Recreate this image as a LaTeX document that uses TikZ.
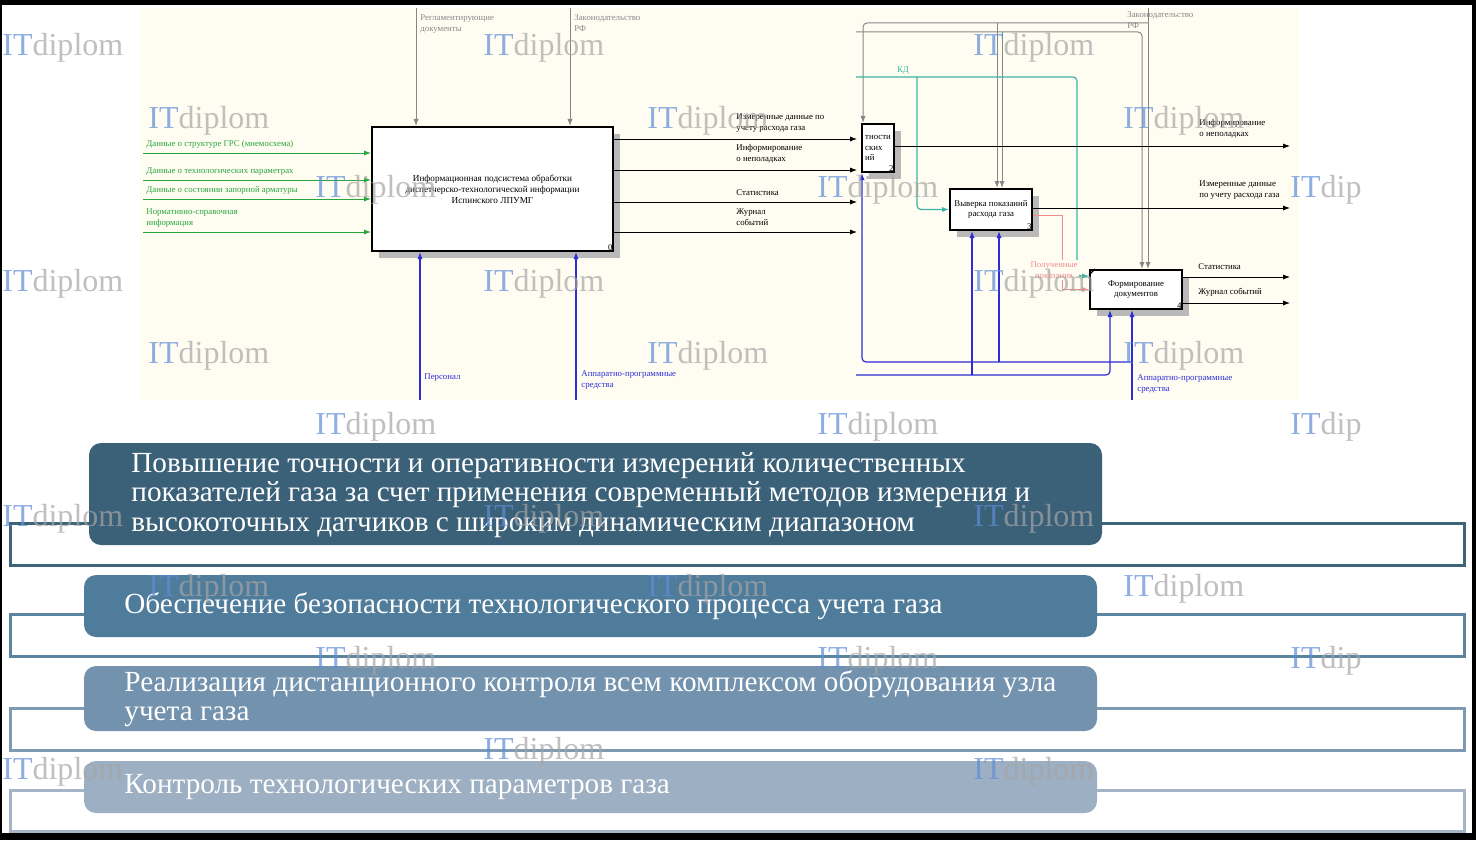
\documentclass[tikz,border=0pt]{standalone}
\usepackage{fontspec}
\setmainfont{Liberation Serif}
\usetikzlibrary{positioning}
\usetikzlibrary{arrows.meta}
\usetikzlibrary{shadows}

\definecolor{cream}{RGB}{255,253,242}
\definecolor{idefgreen}{RGB}{40,165,60}
\definecolor{idefblue}{RGB}{45,45,215}
\definecolor{ctrlgray}{RGB}{135,135,135}
\definecolor{kdteal}{RGB}{60,180,165}
\definecolor{pinkline}{RGB}{240,140,140}
\definecolor{barA}{RGB}{59,97,121}
\definecolor{barB}{RGB}{79,124,155}
\definecolor{barC}{RGB}{115,146,173}
\definecolor{barD}{RGB}{157,175,194}
\definecolor{frameA}{RGB}{62,100,120}
\definecolor{frameB}{RGB}{90,132,160}
\definecolor{frameC}{RGB}{126,154,178}
\definecolor{frameD}{RGB}{165,181,197}
\definecolor{wmblue}{RGB}{95,140,215}
\definecolor{wmgray}{RGB}{165,165,165}

\tikzset{
	idef/.style={draw, line width=1pt, fill=white, inner sep=1pt, align=center,
		font=\fontsize{4.4}{5.4}\selectfont,
		drop shadow={shadow xshift=3.5pt, shadow yshift=-3.5pt, fill=gray!55, opacity=1}},
	lbl/.style={inner sep=0.5pt, align=left, font=\fontsize{4.4}{5.6}\selectfont},
	tip/.style={-{Latex[length=3.5pt,width=2.6pt]}},
	ctrl/.style={tip, draw=ctrlgray, line width=0.5pt},
	inarr/.style={tip, draw=idefgreen, line width=0.5pt},
	mech/.style={tip, draw=idefblue, line width=0.6pt},
	outarr/.style={tip, draw=black, line width=0.5pt},
	kd/.style={tip, draw=kdteal, line width=0.6pt},
	frm/.style={line width=1.5pt},
	bartxt/.style={anchor=west, text=white, align=left, inner sep=0pt, font=\fontsize{14.6}{14.6}\selectfont},
	wmark/.style={anchor=base west, inner sep=0pt, text opacity=0.7, font=\fontsize{16}{16}\selectfont}
}

\begin{document}
\begin{tikzpicture}[x=0.5pt,y=-0.5pt]
	\useasboundingbox (0,0) rectangle (1476,840);
	\fill[black] (0,0) rectangle (1476,840);
	\fill[white] (2,5) rectangle (1472,833);
	\fill[cream] (140,8) rectangle (1299,400);
	
	% left diagram
	\node (box0) [idef, minimum width=120.5pt, minimum height=62pt, font=\fontsize{4.6}{5.5}\selectfont,
		label={[lbl,anchor=south east]south east:0}] at (492.5,189)
		{Информационная подсистема обработки\\диспетчерско-технологической информации\\Испинского ЛПУМГ};
	
	\coordinate (c1) at (416,8);
	\coordinate (c2) at (570,8);
	\draw[ctrl] (c1) -- (c1 |- box0.north);
	\draw[ctrl] (c2) -- (c2 |- box0.north);
	\node[lbl, text=ctrlgray, anchor=north west] (lc1) at (419,13) {Регламентирующие\\документы};
	\node[lbl, text=ctrlgray, anchor=north west] (lc2) at (573,13) {Законодательство\\РФ};
	
	\foreach \y/\t [count=\k] in {153/{Данные о структуре ГРС (мнемосхема)}, 180/{Данные о технологических параметрах},
		199/{Данные о состоянии запорной арматуры}, 232/{Нормативно-справочная\\информация}}{
		\coordinate (in\k) at (143,\y);
		\draw[inarr] (in\k) -- (in\k -| box0.west);
		\node[lbl, text=idefgreen, anchor=south west] (lin\k) at (145,\y-3) {\t};
	}
	
	\foreach \y/\t [count=\k] in {139/{Измеренные данные по\\учету расхода газа}, 170/{Информирование\\о неполадках},
		202/{Статистика}, 232/{Журнал\\событий}}{
		\coordinate (out\k) at (857,\y);
		\draw[outarr] (out\k -| box0.east) -- (out\k);
		\node[lbl, anchor=south west] (lout\k) at (735,\y-5) {\t};
	}
	
	\coordinate (m1) at (420,400);
	\coordinate (m2) at (576,400);
	\draw[mech] (m1) -- (m1 |- box0.south);
	\draw[mech] (m2) -- (m2 |- box0.south);
	\node[lbl, text=idefblue, anchor=west] (lm1) at (423,378) {Персонал};
	\node[lbl, text=idefblue, anchor=west] (lm2) at (580,380) {Аппаратно-программные\\средства};
	
	% right diagram
	\node (box2) [idef, minimum width=16pt, minimum height=24pt, anchor=north west, align=left,
		label={[lbl,anchor=south east]south east:2}] at (861,123) {тности\\ских\\ий};
	\node (box3) [idef, minimum width=41pt, minimum height=20.5pt,
		label={[lbl,anchor=south east]south east:3}] at (991,209.5) {Выверка показаний\\расхода газа};
	\node (box4) [idef, minimum width=46pt, minimum height=19.5pt,
		label={[lbl,anchor=south east]south east:4}] at (1136,289.5) {Формирование\\документов};
	\draw[line width=0.6pt] ([yshift=-3pt]box4.north west) -- ([xshift=3pt]box4.north west);
	
	\coordinate (rc1) at (1148,8);
	\coordinate (rj1) at (1148,23);
	\coordinate (rk1) at (863,23);
	\coordinate (rb1) at (997,23);
	\coordinate (rc2) at (856,32);
	\coordinate (rk2) at (1142,32);
	\coordinate (rb2) at (1002,32);
	\draw[ctrl] (rc1) -- (rc1 |- box4.north);
	\draw[ctrl, rounded corners=2pt] (rj1) -- (rk1) -- (rk1 |- box2.north);
	\draw[ctrl] (rb1) -- (rb1 |- box3.north);
	\draw[ctrl, rounded corners=2pt] (rc2) -- (rk2) -- (rk2 |- box4.north);
	\draw[ctrl] (rb2) -- (rb2 |- box3.north);
	\node[lbl, text=ctrlgray, anchor=north west] (lrc) at (1126,10) {Законодательство\\РФ};
	
	\coordinate (kd0) at (856,77);
	\coordinate (kd1) at (917,77);
	\coordinate (kd2) at (1077,77);
	\coordinate (kd4) at (1077,276);
	\draw[kd, rounded corners=2pt] (kd0) -- (kd2) -- (kd4) -- (kd4 -| box4.west);
	\draw[kd, rounded corners=2pt] (kd1) -- (kd1 |- box3.west) -- (box3.west);
	\node[lbl, text=kdteal, anchor=south] (lkd) at (903,76) {КД};
	
	\coordinate (p1) at (1062,215);
	\draw[tip, draw=pinkline, line width=0.5pt] (p1 -| box3.east) -- (p1) -- (p1 |- box4.west) -- (box4.west);
	\node[lbl, text=pinkline, fill=cream, align=center] (lp) at (1054,270) {Полученные\\показания};
	
	\coordinate (rm1) at (1132,400);
	\coordinate (rj2) at (1132,362);
	\coordinate (rl) at (862,362);
	\coordinate (rb3) at (999,362);
	\coordinate (rm2) at (856,375);
	\coordinate (rk3) at (1110,375);
	\coordinate (rb4) at (972,375);
	\draw[mech] (rm1) -- (rm1 |- box4.south);
	\draw[mech, rounded corners=2pt] (rj2) -- (rl) -- (rl |- box2.south);
	\draw[mech] (rb3) -- (rb3 |- box3.south);
	\draw[mech, rounded corners=2pt] (rm2) -- (rk3) -- (rk3 |- box4.south);
	\draw[mech] (rb4) -- (rb4 |- box3.south);
	\node[lbl, text=idefblue, anchor=north west] (lrm) at (1136,373) {Аппаратно-программные\\средства};
	
	\coordinate (ro1) at (1290,146);
	\coordinate (ro2) at (1290,208);
	\coordinate (ro3) at (1290,277);
	\coordinate (ro4) at (1290,303);
	\draw[outarr] (ro1 -| box2.east) -- (ro1);
	\draw[outarr] (ro2 -| box3.east) -- (ro2);
	\draw[outarr] (ro3 -| box4.east) -- (ro3);
	\draw[outarr] (ro4 -| box4.east) -- (ro4);
	\node[lbl, anchor=south west] (lro1) at (1198,140) {Информирование\\о неполадках};
	\node[lbl, anchor=south west] (lro2) at (1198,201) {Измеренные данные\\по учету расхода газа};
	\node[lbl, anchor=south west] (lro3) at (1197,271) {Статистика};
	\node[lbl, anchor=south west] (lro4) at (1197,298) {Журнал событий};
	
	% list of tasks
	\draw[frm, draw=frameA] (10,523) rectangle (1464,565);
	\draw[frm, draw=frameB] (10,614) rectangle (1464,656);
	\draw[frm, draw=frameC] (10,708) rectangle (1464,750);
	\draw[frm, draw=frameD] (10,790) rectangle (1464,831);
	\fill[barA, rounded corners=6pt] (89,443) rectangle (1102,545);
	\fill[barB, rounded corners=6pt] (84,575) rectangle (1097,637);
	\fill[barC, rounded corners=6pt] (84,666) rectangle (1097,731);
	\fill[barD, rounded corners=6pt] (84,761) rectangle (1097,813);
	\node[bartxt] (t1) at (131,495) {Повышение точности и оперативности измерений количественных\\показателей газа за счет применения современный методов измерения и\\высокоточных датчиков с широким динамическим диапазоном};
	\node[bartxt] (t2) at (124,606) {Обеспечение безопасности технологического процесса учета газа};
	\node[bartxt] (t3) at (124,699) {Реализация дистанционного контроля всем комплексом оборудования узла\\учета газа};
	\node[bartxt] (t4) at (124,787) {Контроль технологических параметров газа};
	
	\foreach \wx/\wy/\wt [count=\k] in {2/45/diplom, 483/45/diplom, 973/45/diplom,
		148/117/diplom, 647/117/diplom, 1123/117/diplom,
		315/186/diplom, 817/186/diplom, 1290/186/dip,
		2/280/diplom, 483/280/diplom, 973/280/diplom,
		148/352/diplom, 647/352/diplom, 1123/352/diplom,
		315/423/diplom, 817/423/diplom, 1290/423/dip,
		2/515/diplom, 483/515/diplom, 973/515/diplom,
		148/585/diplom, 647/585/diplom, 1123/585/diplom,
		315/657/diplom, 817/657/diplom, 1290/657/dip,
		2/768/diplom, 483/748/diplom, 973/768/diplom}{
		\node[wmark] (wm\k) at (\wx,\wy+11) {\textcolor{wmblue}{IT}\textcolor{wmgray}{\wt}};
	}
\end{tikzpicture}
\end{document}
